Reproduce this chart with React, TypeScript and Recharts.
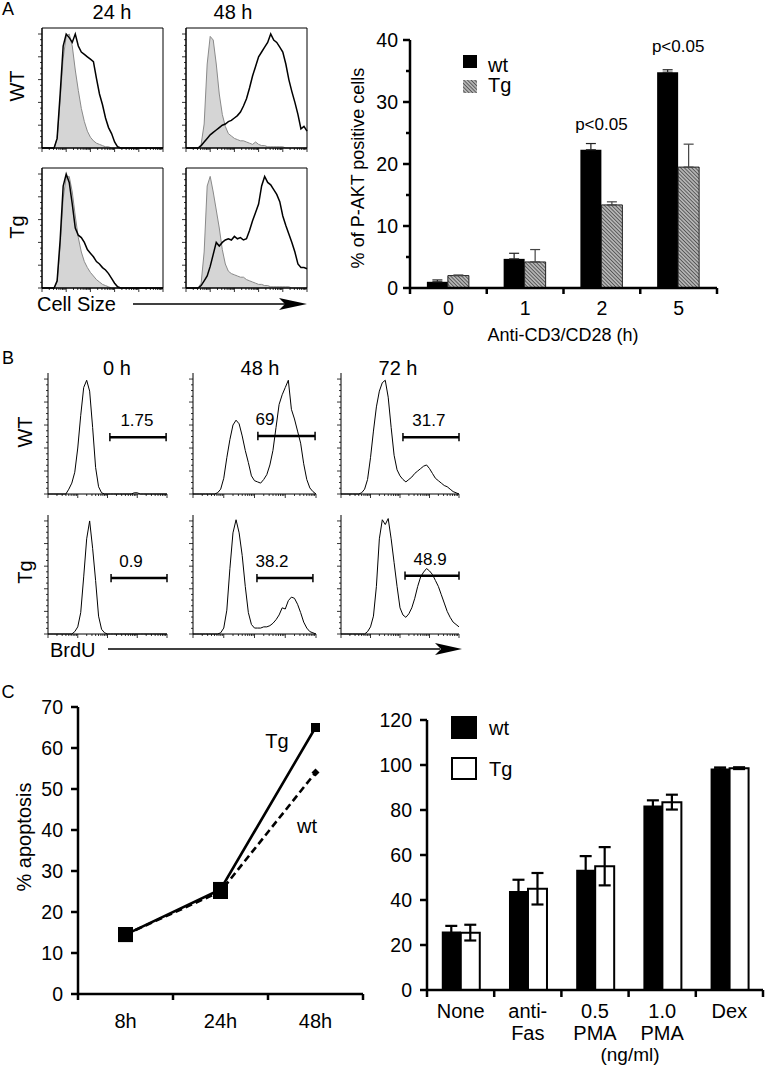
import React from "react";
import {
  ComposedChart,
  Area,
  Line,
  LineChart,
  BarChart,
  Bar,
  XAxis,
  YAxis,
  ReferenceArea,
  ReferenceLine,
  ReferenceDot,
  ErrorBar,
  LabelList,
} from "recharts";

const FONT = "'Liberation Sans', Arial, Helvetica, sans-serif";

// ---- Panel A: cell size histograms, 41 channels, % of max (ctrl = grey filled)
const aWt24Ctrl = [0,0,0,0,0,8,40,75,93,95,85,65,48,33,22,14,9,6,4,3,2,1,1,0,0,0,0,0,0,0,0,0,0,0,0,0,0,0,0,0,0];
const aWt24 = [0,0,0,0,0,8,45,85,95,92,88,95,85,80,78,76,74,72,58,45,36,25,17,12,5,1,0,0,0,0,0,0,0,0,0,0,0,0,0,0,0];
const aTg24Ctrl = [0,0,0,0,0,5,35,75,92,93,80,60,42,30,22,17,13,10,7,5,3,2,1,0,0,0,0,0,0,0,0,0,0,0,0,0,0,0,0,0,0];
const aTg24 = [0,0,0,0,0,6,40,85,95,88,70,50,44,42,38,32,29,26,22,20,17,15,12,8,4,1,0,0,0,0,0,0,0,0,0,0,0,0,0,0,0];
const aWt48Ctrl = [0,0,0,0,0,3,20,70,93,90,70,45,28,18,12,10,8,7,6,6,5,4,3,5,3,2,2,1,1,1,1,1,1,0,0,0,0,0,0,0,0];
const aWt48 = [0,0,0,0,0,2,5,8,11,13,15,17,19,20,22,23,25,27,30,35,41,50,60,68,76,80,84,88,95,90,88,84,80,70,57,47,38,28,16,18,14];
const aTg48Ctrl = [0,0,0,0,0,4,30,85,93,80,65,50,32,20,14,12,11,10,9,9,7,6,5,4,3,3,2,2,1,1,1,1,1,1,1,0,0,0,0,0,0];
const aTg48 = [0,0,0,0,0,2,6,10,18,28,38,35,38,40,41,40,43,41,42,40,41,48,56,63,70,85,93,88,86,82,78,72,60,52,45,38,30,20,17,17,16];

// ---- Panel A: P-AKT positive cells
const aHours = ["0", "1", "2", "5"];
const aWtPakt = [1.0, 4.7, 22.3, 34.8];
const aWtPaktErr = [0.3, 0.9, 1.0, 0.4];
const aTgPakt = [2.0, 4.2, 13.4, 19.5];
const aTgPaktErr = [0.1, 2.0, 0.5, 3.7];
const aPValues = ["", "", "p<0.05", "p<0.05"];
const aYTicks = [0, 5, 10, 15, 20, 25, 30, 35, 40];

// ---- Panel B: BrdU histograms
const bWt0 = [0,0,0,0,0,0,0,4,9,18,38,65,88,94,85,55,22,6,1,0,0,0,0,0,0,0,0,0,0,1,1,0,0,0,0,0,0,0,0,0,0];
const bWt48 = [0,0,0,0,0,0,0,0,1,4,13,30,45,57,61,58,48,36,26,15,11,10,9,12,16,24,36,55,74,82,88,94,70,62,52,42,25,12,5,2,0];
const bWt72 = [0,0,0,0,0,0,0,1,4,12,30,52,72,85,92,94,80,55,32,20,15,12,10,12,14,17,19,21,23,24,21,17,13,11,9,7,6,4,2,1,0];
const bTg0 = [0,0,0,0,0,0,0,0,0,2,6,18,48,80,95,72,45,15,4,1,0,0,0,0,0,0,0,0,0,0,0,0,0,0,0,0,0,0,0,0,0];
const bTg48 = [0,0,0,0,0,0,0,0,0,1,5,20,55,85,96,85,66,40,18,8,5,5,5,6,6,7,9,12,16,22,21,28,31,30,25,18,10,5,2,1,0];
const bTg72 = [0,0,0,0,0,0,0,0,0,2,6,15,40,80,96,92,97,80,60,40,22,16,14,17,22,30,40,48,52,55,53,50,45,40,33,26,19,14,10,8,6];
const bGateFrom = [20.8, 21.1, 21.0, 21.2, 20.8, 21.7];
const bGateTo = [39.7, 39.7, 40, 40, 39, 40];
const bGateY = [47, 48, 47, 47, 47, 49];
const bGateLabelX = [29.9, 23.4, 29.8, 27.9, 25.7, 30.2];
const bGateLabels = ["1.75", "69", "31.7", "0.9", "38.2", "48.9"];

// ---- Panel C: apoptosis time course
const cTimes = ["8h", "24h", "48h"];
const cTgApoptosis = [14.5, 25.5, 65];
const cWtApoptosis = [14.5, 25.0, 54];
const cTimeTicks = [0, 10, 20, 30, 40, 50, 60, 70];

// ---- Panel C: death by treatment
const cTreatLine1 = ["None", "anti-", "0.5", "1.0", "Dex"];
const cTreatLine2 = ["", "Fas", "PMA", "PMA", ""];
const cWtDeath = [26, 44, 53.5, 82, 98.5];
const cWtDeathErr = [2.5, 5, 6, 2.3, 0.4];
const cTgDeath = [25.5, 45, 55, 83.5, 98.6];
const cTgDeathErr = [3.5, 7, 8.5, 3.3, 0.4];
const cDeathTicks = [0, 20, 40, 60, 80, 100, 120];

function Txt({ x, y, size = 20, anchor = "middle", rotate = 0, children }: {
  x: number; y: number; size?: number; anchor?: string; rotate?: number; children: React.ReactNode;
}) {
  const tx = anchor === "middle" ? "-50%" : anchor === "end" ? "-100%" : "0%";
  return (
    <div
      style={{
        position: "absolute", left: x, top: y, fontSize: size, fontFamily: FONT, lineHeight: 1,
        whiteSpace: "nowrap", color: "#000",
        transform: `translate(${tx}, -50%)` + (rotate ? ` rotate(${rotate}deg)` : ""),
      }}
    >
      {children}
    </div>
  );
}

interface HistProps {
  left: number; top: number; w: number; h: number;
  line: number[]; ctrl?: number[]; boxed?: boolean; decades: number; gate?: number; lineWidth?: number;
}

function Histogram({ left, top, w, h, line, ctrl, boxed, decades, gate, lineWidth = 1 }: HistProps) {
  const data = line.map((v, i) => ({ x: i, line: v, ctrl: ctrl ? ctrl[i] : undefined }));
  const step = 40 / decades;
  const xTicks: number[] = [];
  for (let d = 0; d < decades; d++) {
    for (let k = 1; k <= 9; k++) xTicks.push(d * step + step * Math.log10(k));
  }
  xTicks.push(40);
  const yTicks: number[] = [];
  for (let k = 0; k <= 20; k++) yTicks.push(k * 4.75);
  const axisX = 5;
  const axisY = 2 + h;
  return (
    <div style={{ position: "absolute", left: left - 5, top: top - 2 }}>
      <ComposedChart width={w + 7} height={h + 7} data={data} margin={{ top: 2, right: 2, bottom: 1, left: 1 }}>
        <XAxis
          type="number" dataKey="x" domain={[0, 40]} ticks={xTicks} interval={0} height={4}
          tickLine={false} axisLine={{ stroke: "#000", strokeWidth: 1 }}
          tick={(p: any) => (
            <line x1={p.x} x2={p.x} y1={axisY} y2={axisY + (p.index % 9 === 0 ? 4 : 2)} stroke="#000" strokeWidth={0.8} />
          )}
        />
        <YAxis
          type="number" domain={[0, 100]} ticks={yTicks} interval={0} width={4}
          tickLine={false} axisLine={{ stroke: "#000", strokeWidth: 1 }}
          tick={(p: any) => (
            <line x1={axisX} x2={axisX - (p.index % 4 === 0 ? 4 : 2)} y1={p.y} y2={p.y} stroke="#000" strokeWidth={0.8} />
          )}
        />
        {ctrl && (
          <Area type="linear" dataKey="ctrl" stroke="#8a8a8a" strokeWidth={1} fill="#d5d5d5" fillOpacity={1}
            dot={false} activeDot={false} isAnimationActive={false} />
        )}
        <Line type="linear" dataKey="line" stroke="#000" strokeWidth={lineWidth} dot={false} activeDot={false}
          isAnimationActive={false} />
        {boxed && (
          <ReferenceArea x1={0} x2={40} y1={0} y2={100} fill="none" stroke="#000" strokeWidth={1} ifOverflow="visible" />
        )}
        {gate !== undefined && (
          <ReferenceLine
            segment={[{ x: bGateFrom[gate], y: bGateY[gate] }, { x: bGateTo[gate], y: bGateY[gate] }]}
            stroke="#000" strokeWidth={2.5} ifOverflow="visible"
          />
        )}
        {gate !== undefined && (
          <ReferenceLine
            segment={[{ x: bGateFrom[gate], y: bGateY[gate] - 3.5 }, { x: bGateFrom[gate], y: bGateY[gate] + 3.5 }]}
            stroke="#000" strokeWidth={1.5} ifOverflow="visible"
          />
        )}
        {gate !== undefined && (
          <ReferenceLine
            segment={[{ x: bGateTo[gate], y: bGateY[gate] - 3.5 }, { x: bGateTo[gate], y: bGateY[gate] + 3.5 }]}
            stroke="#000" strokeWidth={1.5} ifOverflow="visible"
          />
        )}
        {gate !== undefined && (
          <ReferenceDot
            x={bGateLabelX[gate]} y={bGateY[gate]} r={0} fill="none" stroke="none" ifOverflow="visible"
            label={{ value: bGateLabels[gate], position: "top", offset: 11, fontSize: 17, fontFamily: FONT, fill: "#000" }}
          />
        )}
      </ComposedChart>
    </div>
  );
}

function valueTick(axisX: number, majorLen: number, minorLen: number, isMajor: (v: number) => boolean, gap: number, size: number) {
  return (p: any) => {
    const v = p.payload.value;
    const major = isMajor(v);
    return (
      <g>
        <line x1={axisX} x2={axisX - (major ? majorLen : minorLen)} y1={p.y} y2={p.y} stroke="#000" strokeWidth={2.5} />
        {major && (
          <text x={axisX - gap} y={p.y} dy="0.36em" textAnchor="end" fontSize={size} fontFamily={FONT} fill="#000">
            {v}
          </text>
        )}
      </g>
    );
  };
}

function bandTick(axisY: number, band: number, getLines: (i: number, v: any) => string[], firstDy: number, lineGap: number, size: number, len: number) {
  return (p: any) => {
    const lines = getLines(p.index, p.payload.value);
    return (
      <g>
        <line x1={p.x + band / 2} x2={p.x + band / 2} y1={axisY} y2={axisY + len} stroke="#000" strokeWidth={2.5} />
        {p.index === 0 && (
          <line x1={p.x - band / 2} x2={p.x - band / 2} y1={axisY} y2={axisY + len} stroke="#000" strokeWidth={2.5} />
        )}
        {lines.map((t, k) => (
          <text key={k} x={p.x} y={axisY + firstDy + k * lineGap} dy="0.36em" textAnchor="middle" fontSize={size}
            fontFamily={FONT} fill="#000">
            {t}
          </text>
        ))}
      </g>
    );
  };
}

function PaktChart() {
  const data = aHours.map((h, i) => ({
    h, wt: aWtPakt[i], wtErr: [0, aWtPaktErr[i]], tg: aTgPakt[i], tgErr: [0, aTgPaktErr[i]], p: aPValues[i],
  }));
  const axis = { stroke: "#000", strokeWidth: 2.5 };
  return (
    <div style={{ position: "absolute", left: 340, top: 30 }}>
      <BarChart width={387} height={303} data={data} margin={{ top: 10, right: 10, bottom: 5, left: 10 }}
        barCategoryGap="22%" barGap={0}>
        <XAxis dataKey="h" height={40} axisLine={axis} tickLine={false} interval={0}
          tick={bandTick(258, 307 / 4, (_i, v) => [String(v)], 20, 0, 19.5, 6)} />
        <YAxis domain={[0, 40]} ticks={aYTicks} width={60} interval={0} axisLine={axis} tickLine={false}
          tick={valueTick(70, 7, 4, (v) => v % 10 === 0, 12, 19.5)} />
        <Bar dataKey="wt" fill="#000" isAnimationActive={false}>
          <ErrorBar dataKey="wtErr" width={5} stroke="#222" strokeWidth={1.2} />
          <LabelList dataKey="p" content={(p: any) =>
            p.value ? (
              <text x={p.x + p.width} y={p.y - 26} dy="0.36em" textAnchor="middle" fontSize={17} fontFamily={FONT} fill="#000">
                {p.value}
              </text>
            ) : null
          } />
        </Bar>
        <Bar dataKey="tg" fill="url(#hatchA)" stroke="#222" strokeWidth={1} isAnimationActive={false}>
          <ErrorBar dataKey="tgErr" width={5} stroke="#444" strokeWidth={1.2} />
        </Bar>
      </BarChart>
    </div>
  );
}

function squareDot(big: number, small: number, diamond: boolean) {
  return (p: any) => {
    const { cx, cy, index } = p;
    const s = index < 2 ? big : small;
    if (index === 2 && diamond) {
      return (
        <path key={`d${index}`} d={`M${cx},${cy - s / 2}L${cx + s / 2},${cy}L${cx},${cy + s / 2}L${cx - s / 2},${cy}Z`} fill="#000" />
      );
    }
    return <rect key={`d${index}`} x={cx - s / 2} y={cy - s / 2} width={s} height={s} fill="#000" />;
  };
}

function ApoptosisChart() {
  const data = cTimes.map((t, i) => ({ x: i + 0.5, t, tg: cTgApoptosis[i], wt: cWtApoptosis[i] }));
  const axis = { stroke: "#000", strokeWidth: 2.5 };
  return (
    <div style={{ position: "absolute", left: 0, top: 680 }}>
      <LineChart width={373} height={370} data={data} margin={{ top: 27, right: 10, bottom: 6, left: 8 }}>
        <XAxis type="number" dataKey="x" domain={[0, 3]} ticks={[0.5, 1.5, 2.5]} interval={0} height={50}
          axisLine={axis} tickLine={false}
          tick={bandTick(314, 95, (i) => [cTimes[i]], 27, 0, 20, 6)} />
        <YAxis domain={[0, 70]} ticks={cTimeTicks} width={70} interval={0} axisLine={axis} tickLine={false}
          tick={valueTick(78, 7, 7, () => true, 15, 19.5)} />
        <Line type="linear" dataKey="wt" stroke="#000" strokeWidth={2.6} strokeDasharray="7 4"
          dot={squareDot(15, 8, true)} activeDot={false} isAnimationActive={false} />
        <Line type="linear" dataKey="tg" stroke="#000" strokeWidth={2.6}
          dot={squareDot(15, 9, false)} activeDot={false} isAnimationActive={false} />
      </LineChart>
    </div>
  );
}

function TreatmentChart() {
  const data = cTreatLine1.map((t, i) => ({
    t, wt: cWtDeath[i], wtErr: cWtDeathErr[i], tg: cTgDeath[i], tgErr: cTgDeathErr[i],
  }));
  const axis = { stroke: "#000", strokeWidth: 2.5 };
  return (
    <div style={{ position: "absolute", left: 360, top: 700 }}>
      <BarChart width={408} height={356} data={data} margin={{ top: 20, right: 5, bottom: 6, left: 7 }}
        barCategoryGap="22%" barGap={0}>
        <XAxis dataKey="t" height={60} axisLine={axis} tickLine={false} interval={0}
          tick={bandTick(290, 336 / 5, (i) => [cTreatLine1[i], cTreatLine2[i]].filter((s) => s), 21, 22, 20, 7)} />
        <YAxis domain={[0, 120]} ticks={cDeathTicks} width={60} interval={0} axisLine={axis} tickLine={false}
          tick={valueTick(67, 7, 7, () => true, 15, 19.5)} />
        <Bar dataKey="wt" fill="#000" isAnimationActive={false}>
          <ErrorBar dataKey="wtErr" width={6} stroke="#000" strokeWidth={2.2} />
        </Bar>
        <Bar dataKey="tg" fill="#fff" stroke="#000" strokeWidth={2} isAnimationActive={false}>
          <ErrorBar dataKey="tgErr" width={6} stroke="#000" strokeWidth={2.2} />
        </Bar>
      </BarChart>
    </div>
  );
}

export default function App() {
  return (
    <div style={{ position: "absolute", left: 0, top: 0, width: 769, height: 1066, background: "#fff", overflow: "hidden" }}>
      <svg width={0} height={0} style={{ position: "absolute" }}>
        <defs>
          <pattern id="hatchA" width={2.6} height={2.6} patternUnits="userSpaceOnUse" patternTransform="rotate(-45)">
            <rect width={2.6} height={2.6} fill="#b4b4b4" />
            <line x1={0} y1={0} x2={0} y2={2.6} stroke="#3c3c3c" strokeWidth={1.4} />
          </pattern>
        </defs>
      </svg>

      {/* Panel A */}
      <Txt x={8} y={9} size={18}>A</Txt>
      <Txt x={112} y={12}>24 h</Txt>
      <Txt x={233} y={12}>48 h</Txt>
      <Txt x={17} y={86} rotate={-90}>WT</Txt>
      <Txt x={17} y={227} rotate={-90}>Tg</Txt>
      <Histogram left={42} top={28} w={121} h={120} line={aWt24} ctrl={aWt24Ctrl} boxed decades={5} lineWidth={1.5} />
      <Histogram left={186} top={28} w={121} h={120} line={aWt48} ctrl={aWt48Ctrl} boxed decades={5} lineWidth={1.5} />
      <Histogram left={42} top={168} w={121} h={120} line={aTg24} ctrl={aTg24Ctrl} boxed decades={5} lineWidth={1.5} />
      <Histogram left={186} top={168} w={121} h={120} line={aTg48} ctrl={aTg48Ctrl} boxed decades={5} lineWidth={1.5} />
      <Txt x={37} y={304} anchor="start">Cell Size</Txt>

      <PaktChart />
      <Txt x={358} y={168} size={18} rotate={-90}>% of P-AKT positive cells</Txt>
      <Txt x={563} y={335} size={18}>Anti-CD3/CD28 (h)</Txt>
      <div style={{ position: "absolute", left: 463, top: 55, width: 14, height: 13, background: "#000" }} />
      <svg width={14} height={13} style={{ position: "absolute", left: 463, top: 80 }}>
        <rect width={14} height={13} fill="url(#hatchA)" />
      </svg>
      <Txt x={488} y={65} anchor="start">wt</Txt>
      <Txt x={488} y={85} anchor="start">Tg</Txt>

      {/* Panel B */}
      <Txt x={8} y={358} size={18}>B</Txt>
      <Txt x={117} y={368}>0 h</Txt>
      <Txt x={260} y={368}>48 h</Txt>
      <Txt x={398} y={368}>72 h</Txt>
      <Txt x={25} y={432} rotate={-90}>WT</Txt>
      <Txt x={25} y={572} rotate={-90}>Tg</Txt>
      <Histogram left={48} top={373} w={119} h={121} line={bWt0} decades={4} gate={0} />
      <Histogram left={193} top={373} w={123} h={121} line={bWt48} decades={4} gate={1} />
      <Histogram left={341} top={373} w={118} h={121} line={bWt72} decades={4} gate={2} />
      <Histogram left={48} top={515} w={119} h={119} line={bTg0} decades={4} gate={3} />
      <Histogram left={193} top={515} w={123} h={119} line={bTg48} decades={4} gate={4} />
      <Histogram left={341} top={515} w={118} h={119} line={bTg72} decades={4} gate={5} />
      <Txt x={50} y={650} anchor="start">BrdU</Txt>

      {/* Panel C */}
      <Txt x={8} y={692} size={18}>C</Txt>
      <ApoptosisChart />
      <Txt x={24} y={837} rotate={-90}>% apoptosis</Txt>
      <Txt x={277} y={741}>Tg</Txt>
      <Txt x={307} y={826}>wt</Txt>

      <TreatmentChart />
      <div style={{ position: "absolute", left: 451, top: 716, width: 26, height: 23, background: "#000" }} />
      <div style={{ position: "absolute", left: 451, top: 757, width: 26, height: 23, background: "#fff", border: "2px solid #000", boxSizing: "border-box" }} />
      <Txt x={489} y={728} anchor="start">wt</Txt>
      <Txt x={489} y={769} anchor="start">Tg</Txt>
      <Txt x={630} y={1054} size={19}>(ng/ml)</Txt>

      {/* axis arrows */}
      <svg width={769} height={1066} style={{ position: "absolute", left: 0, top: 0, pointerEvents: "none" }}>
        <line x1={133} y1={304} x2={285} y2={304} stroke="#000" strokeWidth={1.5} />
        <path d="M279,298 L307,304 L279,310 L285,304 Z" fill="#000" />
        <line x1={108} y1={649} x2={440} y2={649} stroke="#000" strokeWidth={1.5} />
        <path d="M435,643 L462,649 L435,655 L441,649 Z" fill="#000" />
      </svg>
    </div>
  );
}
